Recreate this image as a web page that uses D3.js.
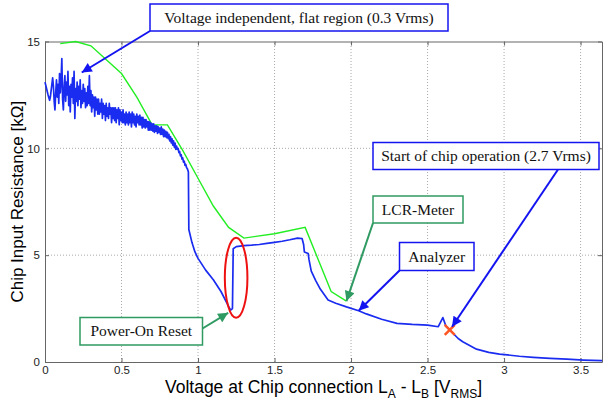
<!DOCTYPE html>
<html lang="en">
  <head>
    <meta charset="utf-8" />
    <title>Chip Input Resistance</title>
    <script src="https://cdn.jsdelivr.net/npm/d3@7"></script>
    <style>
      body { margin: 0; background: #fff; }
    </style>
  </head>
  <body>
    <div id="root"></div>

    <script type="text/javascript">
      /************************************
       * data
       ************************************/

      // LCR-Meter (green)
      const lcrX = [0.1, 0.2, 0.3, 0.5, 0.6, 0.7, 0.8, 0.9, 1.0, 1.1, 1.2, 1.3, 1.5, 1.7, 1.87, 1.97];
      const lcrY = [14.9, 15.0, 14.8, 13.5, 12.4, 11.1, 11.1, 9.9, 8.6, 7.3, 6.3, 5.8, 6.0, 6.3, 3.3, 2.85];

      // Analyzer (blue), noisy part first
      const anaX = [
        0.0, 0.01, 0.02, 0.03, 0.035, 0.04, 0.045, 0.05, 0.055, 0.06, 0.065, 0.07, 0.075, 0.08, 0.085, 0.09, 0.095,
        0.1, 0.105, 0.11, 0.115, 0.12, 0.125, 0.13, 0.135, 0.14, 0.145, 0.15, 0.155, 0.16, 0.165, 0.17, 0.175,
        0.18, 0.185, 0.19, 0.195, 0.2, 0.205, 0.21, 0.215, 0.22, 0.225, 0.23, 0.235, 0.24, 0.245, 0.25, 0.255,
        0.26, 0.265, 0.27, 0.275, 0.28, 0.285, 0.29, 0.295,
        0.3, 0.305, 0.31, 0.315, 0.32, 0.325, 0.33, 0.335, 0.34, 0.345, 0.35, 0.355, 0.36, 0.365, 0.37, 0.375,
        0.38, 0.385, 0.39, 0.395, 0.4, 0.405, 0.41, 0.415, 0.42, 0.425, 0.43, 0.435, 0.44, 0.445, 0.45, 0.455,
        0.46, 0.465, 0.47, 0.475, 0.48, 0.485, 0.49, 0.495, 0.5, 0.505, 0.51, 0.515, 0.52, 0.525, 0.53, 0.535,
        0.54, 0.545, 0.55, 0.555, 0.56, 0.565, 0.57, 0.575, 0.58, 0.585, 0.59, 0.595, 0.6, 0.605, 0.61, 0.615,
        0.62, 0.625, 0.63, 0.635, 0.64, 0.645, 0.65, 0.655, 0.66, 0.665, 0.67, 0.675, 0.68, 0.685, 0.69, 0.695,
        0.7, 0.705, 0.71, 0.715, 0.72, 0.725, 0.73, 0.735, 0.74, 0.745, 0.75, 0.755, 0.76, 0.765, 0.77, 0.775,
        0.78, 0.785, 0.79, 0.795, 0.8, 0.805, 0.81, 0.815, 0.82, 0.825, 0.83, 0.835, 0.84, 0.845, 0.85, 0.855,
        0.86, 0.865, 0.87, 0.875, 0.88, 0.885, 0.89, 0.895, 0.9, 0.905, 0.91, 0.915, 0.92, 0.925, 0.93, 0.937,
        0.94, 0.96, 0.98, 1.0, 1.05, 1.1, 1.15, 1.2, 1.213, 1.225, 1.23, 1.25, 1.3, 1.35,
        1.4, 1.45, 1.5, 1.55, 1.6, 1.65, 1.68, 1.69, 1.695, 1.72, 1.725, 1.74, 1.77, 1.8, 1.85, 1.9, 1.97,
        2.05, 2.1, 2.2, 2.3, 2.4, 2.5, 2.57, 2.6, 2.62, 2.645, 2.7, 2.73, 2.82, 2.9, 2.97, 3.1, 3.19, 3.3,
        3.41, 3.52, 3.64
      ];
      const anaY = [
        13.1, 12.8, 12.5, 12.25, 12.4, 12.7, 13.0, 13.3, 12.9, 12.2, 11.8, 12.6, 13.2, 12.4, 13.0, 12.1, 13.5,
        12.6, 13.2, 14.2, 12.3, 11.8, 12.9, 13.4, 12.2, 13.1, 12.5, 13.6, 12.0, 12.9, 11.7, 13.0, 12.4,
        13.3, 12.1, 13.6, 11.4, 12.8, 12.2, 13.1, 12.0, 12.9, 12.3, 13.2, 11.9, 12.7, 12.1, 13.0, 12.2,
        12.8, 11.9, 12.6, 12.0, 12.9, 12.1, 13.4, 12.0,
        12.7, 11.7, 12.5, 11.9, 12.4, 11.5, 12.4, 11.8, 12.3, 11.6, 12.3, 11.6, 12.1, 11.7, 12.3, 11.4,
        12.1, 11.6, 12.0, 11.3, 12.1, 11.5, 11.9, 11.4, 12.1, 11.6, 11.9, 11.2, 11.9, 11.4, 11.9, 11.3,
        11.9, 11.2, 11.8, 11.4, 11.9, 11.1, 11.8, 11.3, 11.7, 11.2, 11.8, 11.2, 11.6, 11.1, 11.7, 11.2,
        11.6, 11.1, 11.7, 11.2, 11.6, 11.0, 11.7, 11.2, 11.6, 11.1, 11.5, 11.0, 11.6, 11.2, 11.5, 11.1,
        11.55, 11.1, 11.45, 10.95, 11.45, 11.0, 11.35, 10.95, 11.35, 11.0, 11.25, 10.85, 11.25, 10.85, 11.2, 10.85,
        11.15, 10.8, 11.15, 10.75, 11.05, 10.8, 11.05, 10.7, 11.0, 10.75, 10.95, 10.65, 11.0, 10.65, 10.9, 10.55,
        10.85, 10.55, 10.8, 10.5, 10.75, 10.45, 10.65, 10.35, 10.55, 10.25, 10.45, 10.15, 10.35, 10.05, 10.25, 9.95,
        10.1, 9.95, 10.0, 9.8, 9.85, 9.65, 9.7, 9.5, 9.55, 9.35, 9.4, 9.2, 9.25, 9.1, 9.05, 8.9,
        6.2, 5.6, 5.15, 4.85, 4.3, 3.85, 3.3, 2.6, 2.43, 2.5, 5.3, 5.4, 5.45, 5.47,
        5.5, 5.55, 5.6, 5.65, 5.72, 5.8, 5.78, 5.5, 5.15, 5.08, 4.8, 4.25, 3.8, 3.4, 2.9, 2.75, 2.58,
        2.4, 2.25, 2.0, 1.81, 1.76, 1.73, 1.65, 2.08, 1.68, 1.5, 1.1, 0.95, 0.6, 0.45, 0.37, 0.27, 0.22, 0.17,
        0.13, 0.09, 0.06
      ];

      const xTicks = [0, 0.5, 1, 1.5, 2, 2.5, 3, 3.5];
      const yTicks = [0, 5, 10, 15];

      // marker at start of chip operation
      const startX = 2.645;
      const startY = 1.5;

      /**********************************
       * chart
       *************************************/

      const width = 608;
      const height = 408;
      const marginLeft = 45;
      const marginRight = 6;
      const marginTop = 41.5;
      const marginBottom = 46;

      const xScale = d3.scaleLinear().domain([0, 3.64]).range([marginLeft, width - marginRight]);
      const yScale = d3.scaleLinear().domain([0, 15]).range([height - marginBottom, marginTop]);

      const svg = d3.select("#root").append("svg").attr("width", width).attr("height", height);

      const axisColor = "#666";
      const fmt = d3.format("~g");

      // grid
      svg.append("g")
        .selectAll("line")
        .data(xTicks.slice(1))
        .join("line")
        .attr("x1", (d) => xScale(d)).attr("x2", (d) => xScale(d))
        .attr("y1", yScale(0)).attr("y2", yScale(15))
        .attr("stroke", "#aaa").attr("stroke-dasharray", "1,2");
      svg.append("g")
        .selectAll("line")
        .data(yTicks.slice(1, 3))
        .join("line")
        .attr("x1", xScale(0)).attr("x2", xScale(3.64))
        .attr("y1", (d) => yScale(d)).attr("y2", (d) => yScale(d))
        .attr("stroke", "#aaa").attr("stroke-dasharray", "1,2");

      // axes (inward ticks, closed box)
      svg.append("g")
        .attr("transform", `translate(0,${yScale(0)})`)
        .call(d3.axisBottom(xScale).tickValues(xTicks).tickFormat(fmt).tickSizeInner(-4).tickSizeOuter(0).tickPadding(4));
      svg.append("g")
        .attr("transform", `translate(${xScale(0)},0)`)
        .call(d3.axisLeft(yScale).tickValues(yTicks).tickFormat(fmt).tickSizeInner(-4).tickSizeOuter(0).tickPadding(5));
      svg.append("g")
        .attr("transform", `translate(0,${yScale(15)})`)
        .call(d3.axisTop(xScale).tickValues(xTicks).tickSizeInner(-4).tickSizeOuter(0).tickFormat(""));
      svg.append("g")
        .attr("transform", `translate(${xScale(3.64)},0)`)
        .call(d3.axisRight(yScale).tickValues(yTicks).tickSizeInner(-4).tickSizeOuter(0).tickFormat(""));

      svg.selectAll(".domain, .tick line").attr("stroke", axisColor);
      svg.selectAll(".tick text")
        .attr("fill", "#222")
        .style("font-family", "Liberation Sans, Arial, sans-serif")
        .style("font-size", "11.5px");

      // lines
      const line = d3.line().x((d) => xScale(d[0])).y((d) => yScale(d[1]));

      svg.append("path")
        .datum(d3.zip(lcrX, lcrY))
        .attr("d", line)
        .attr("fill", "none")
        .attr("stroke", "#22ee22")
        .attr("stroke-width", 1.4);

      svg.append("path")
        .datum(d3.zip(anaX, anaY))
        .attr("d", line)
        .attr("fill", "none")
        .attr("stroke", "#1a2cf0")
        .attr("stroke-width", 1.7)
        .attr("stroke-linejoin", "round");

      // axis labels
      svg.append("text")
        .attr("transform", `translate(23,${(yScale(0) + yScale(15)) / 2}) rotate(-90)`)
        .attr("text-anchor", "middle")
        .style("font-family", "Liberation Sans, Arial, sans-serif")
        .style("font-size", "17px")
        .text("Chip Input Resistance [kΩ]");

      const xl = svg.append("text")
        .attr("x", (xScale(0) + xScale(3.64)) / 2)
        .attr("y", 393)
        .attr("text-anchor", "middle")
        .style("font-family", "Liberation Sans, Arial, sans-serif")
        .style("font-size", "17.5px");
      xl.append("tspan").text("Voltage at Chip connection L");
      xl.append("tspan").attr("dy", 5).style("font-size", "12px").text("A");
      xl.append("tspan").attr("dy", -5).text(" - L");
      xl.append("tspan").attr("dy", 5).style("font-size", "12px").text("B");
      xl.append("tspan").attr("dy", -5).text(" [V");
      xl.append("tspan").attr("dy", 5).style("font-size", "12px").text("RMS");
      xl.append("tspan").attr("dy", -5).text("]");

      // red ellipse around power-on reset
      svg.append("ellipse")
        .attr("cx", xScale(1.249)).attr("cy", yScale(3.94))
        .attr("rx", 11.3).attr("ry", 40)
        .attr("fill", "none").attr("stroke", "#ee1111").attr("stroke-width", 2);

      // start-of-operation marker
      const mx = xScale(startX), my = yScale(startY);
      svg.append("path")
        .attr("d", `M${mx - 5},${my - 5}L${mx + 5},${my + 5}M${mx - 5},${my + 5}L${mx + 5},${my - 5}`)
        .attr("stroke", "#ff5522").attr("stroke-width", 2.5);

      /**********************************
       * annotations
       *************************************/
      const blue = "#1414f0";
      const green = "#2f9a62";

      const defs = svg.append("defs");
      [["headBlue", blue], ["headGreen", green]].forEach(([id, c]) => {
        defs.append("marker")
          .attr("id", id)
          .attr("viewBox", "0 0 10 10")
          .attr("refX", 10).attr("refY", 5)
          .attr("markerWidth", 5.5).attr("markerHeight", 5)
          .attr("markerUnits", "strokeWidth")
          .attr("orient", "auto")
          .append("path").attr("d", "M0,0L10,5L0,10z").attr("fill", c);
      });

      // box: [x, y, w, h] in px, arrow start in px, arrow tip in data units
      const notes = [
        { box: [150, 4, 298, 27], text: "Voltage independent, flat region (0.3 Vrms)", color: blue, from: [150, 31], to: [0.24, 13.55] },
        { box: [373, 142.5, 226, 27], text: "Start of chip operation (2.7 Vrms)", color: blue, from: [558, 169.5], to: [2.66, 1.65] },
        { box: [373, 196, 90, 27], text: "LCR-Meter", color: green, from: [373, 223], to: [1.97, 2.85] },
        { box: [399.5, 242.5, 74.5, 28], text: "Analyzer", color: blue, from: [399.5, 270.5], to: [2.05, 2.4] },
        { box: [80, 317.5, 122.5, 27.5], text: "Power-On Reset", color: green, from: [202.5, 328.5], to: [1.197, 2.3] },
      ];

      notes.forEach((n) => {
        const head = n.color === blue ? "headBlue" : "headGreen";
        svg.append("line")
          .attr("x1", n.from[0]).attr("y1", n.from[1])
          .attr("x2", xScale(n.to[0])).attr("y2", yScale(n.to[1]))
          .attr("stroke", n.color).attr("stroke-width", 2)
          .attr("marker-end", `url(#${head})`);
        svg.append("rect")
          .attr("x", n.box[0]).attr("y", n.box[1])
          .attr("width", n.box[2]).attr("height", n.box[3])
          .attr("fill", "#fff").attr("stroke", n.color).attr("stroke-width", 1.5);
        svg.append("text")
          .attr("x", n.box[0] + n.box[2] / 2)
          .attr("y", n.box[1] + n.box[3] / 2 + 5)
          .attr("text-anchor", "middle")
          .style("font-family", "Liberation Serif, Times New Roman, serif")
          .style("font-size", "15.5px")
          .attr("fill", "#111")
          .text(n.text);
      });
    </script>
  </body>
</html>
